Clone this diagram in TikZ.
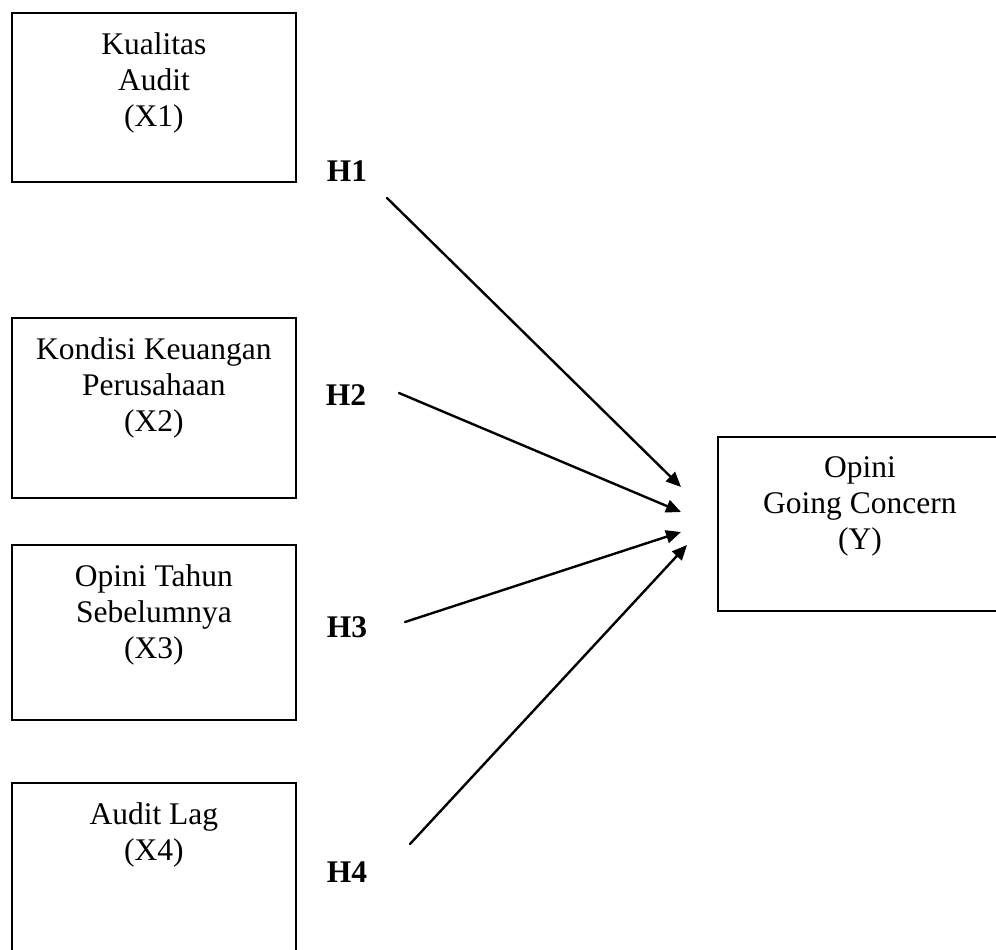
\documentclass[tikz,border=0pt]{standalone}
\usepackage{fontspec}
\setmainfont{Liberation Serif}
\usepackage{tikz}
\usetikzlibrary{arrows.meta,positioning}

\begin{document}
\begin{tikzpicture}[x=0.5pt,y=-0.5pt,>={Triangle[length=7.5pt,width=6.5pt]},
  font=\fontsize{15.75}{18}\selectfont,
  varbox/.style={draw,line width=0.9pt,anchor=north west,inner sep=0pt,minimum width=142pt},
  vartext/.style={align=center,inner sep=0pt},
  hlabel/.style={inner sep=0pt,font=\fontsize{15.75}{18}\selectfont\bfseries},
  link/.style={->,line width=1.2pt,line cap=round}]
\useasboundingbox (0,0) rectangle (996,949);
\clip (0,0) rectangle (996,949);
\node[varbox,minimum height=84.5pt] (x1) at (11,12) {};
\node[vartext,below=10pt of x1.north] (x1t) {Kualitas\\Audit\\(X1)};
\node[varbox,minimum height=90pt] (x2) at (11,317) {};
\node[vartext,below=10pt of x2.north] (x2t) {Kondisi Keuangan\\Perusahaan\\(X2)};
\node[varbox,minimum height=87.5pt] (x3) at (11,544) {};
\node[vartext,below=10pt of x3.north] (x3t) {Opini Tahun\\Sebelumnya\\(X3)};
\node[varbox,minimum height=90pt] (x4) at (11,782) {};
\node[vartext,below=10pt of x4.north] (x4t) {Audit Lag\\(X4)};
\node[varbox,minimum height=87pt] (y) at (717,436) {};
\node[vartext,below=10pt of y.north] (yt) {Opini\\Going Concern\\(Y)};
\node[hlabel] (h1) at (347,171) {H1};
\node[hlabel] (h2) at (346,395) {H2};
\node[hlabel] (h3) at (347,627) {H3};
\node[hlabel] (h4) at (347,872) {H4};
\coordinate (h1s) at (387,198);
\coordinate (h2s) at (399,393);
\coordinate (h3s) at (405,622);
\coordinate (h4s) at (410,844);
\coordinate (h1e) at (681,487);
\coordinate (h2e) at (681,512);
\coordinate (h3e) at (681,532);
\coordinate (h4e) at (687,545);
\draw[link] (h1s) -- (h1e);
\draw[link] (h2s) -- (h2e);
\draw[link] (h3s) -- (h3e);
\draw[link] (h4s) -- (h4e);
\end{tikzpicture}
\end{document}
